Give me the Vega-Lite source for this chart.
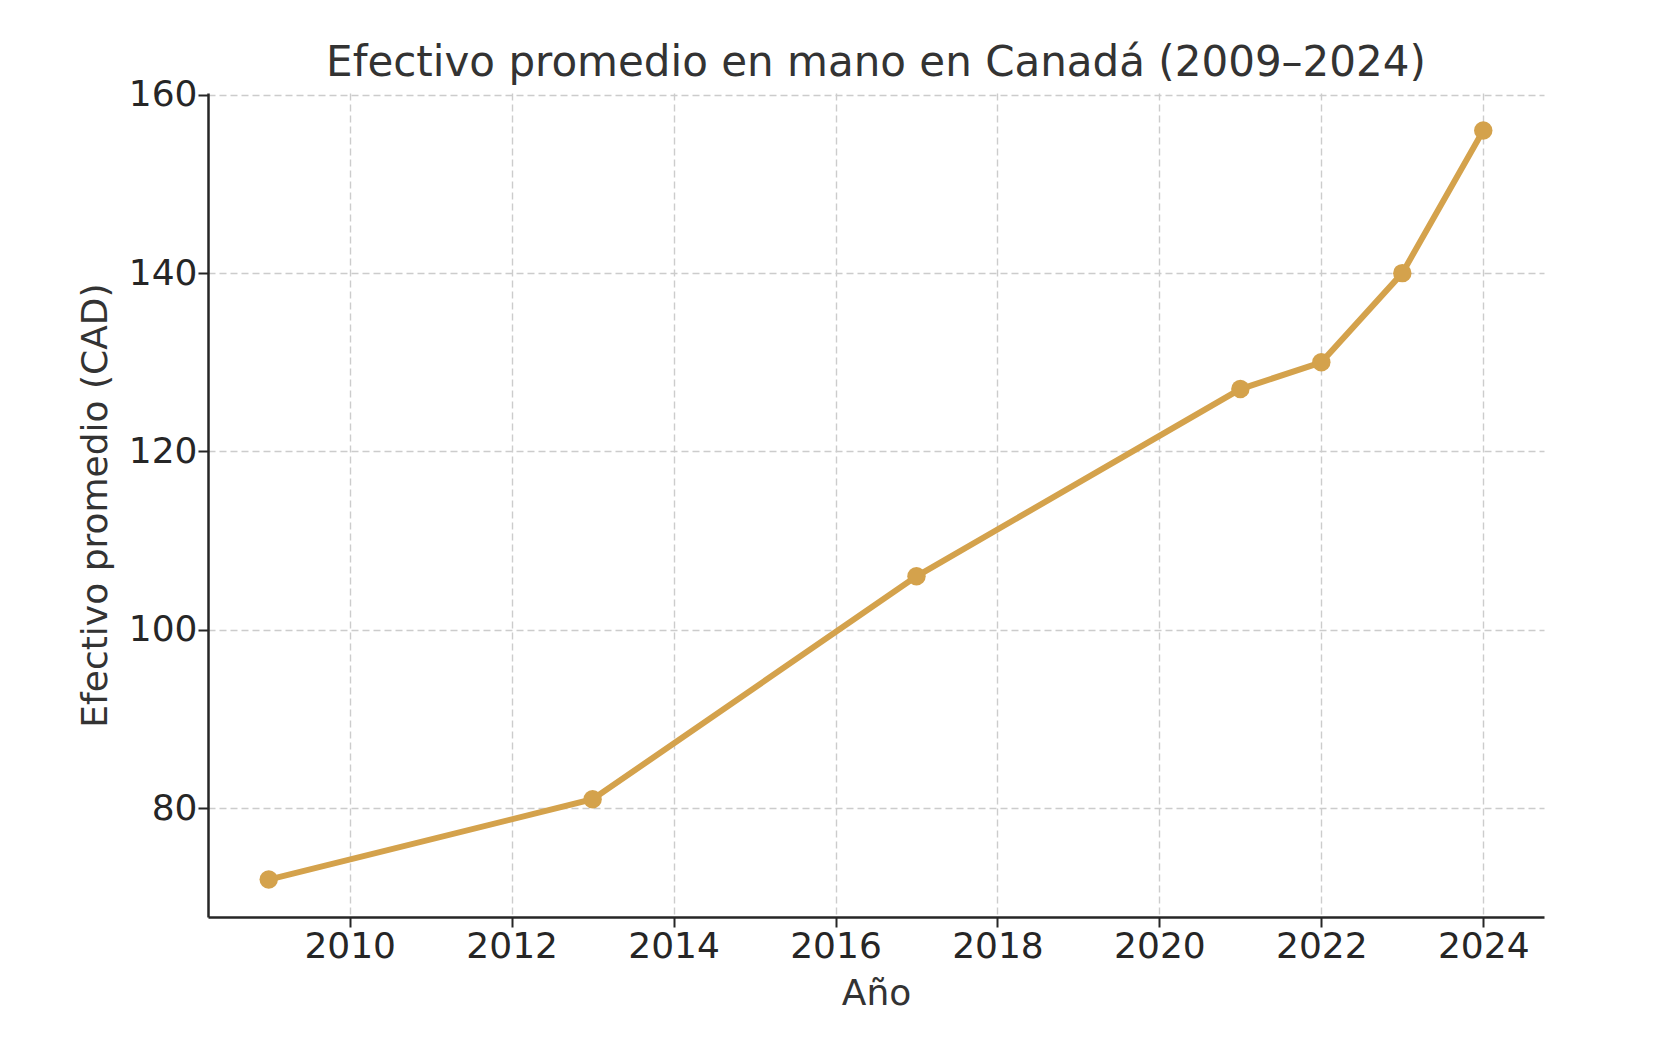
{
  "$schema": "https://vega.github.io/schema/vega-lite/v6.json",
  "width": 1336,
  "height": 824,
  "autosize": {"type": "none"},
  "padding": {"left": 208, "top": 93, "right": 124, "bottom": 131},
  "background": "white",
  "title": {
    "text": "Efectivo promedio en mano en Canadá (2009–2024)",
    "font": "DejaVu Sans",
    "fontSize": 42,
    "fontWeight": "normal",
    "color": "#333333",
    "anchor": "middle",
    "offset": -8
  },
  "data": {
    "values": [
      {"year": 2009, "cash": 72},
      {"year": 2013, "cash": 81},
      {"year": 2017, "cash": 106},
      {"year": 2021, "cash": 127},
      {"year": 2022, "cash": 130},
      {"year": 2023, "cash": 140},
      {"year": 2024, "cash": 156}
    ]
  },
  "config": {
    "view": {"stroke": null},
    "axis": {
      "labelFont": "DejaVu Sans",
      "titleFont": "DejaVu Sans",
      "labelFontSize": 36,
      "titleFontSize": 36,
      "titleFontWeight": "normal",
      "labelColor": "#262626",
      "titleColor": "#333333",
      "domainColor": "#262626",
      "domainWidth": 2.5,
      "tickColor": "#262626",
      "tickWidth": 2,
      "tickSize": 10,
      "gridColor": "#cccccc",
      "gridDash": [7, 4],
      "gridWidth": 1.4
    }
  },
  "layer": [
    {
      "mark": {"type": "line", "color": "#D4A24C", "strokeWidth": 6},
      "encoding": {
        "x": {
          "field": "year",
          "type": "quantitative",
          "title": "Año",
          "scale": {"domain": [2008.25, 2024.75], "nice": false, "zero": false},
          "axis": {"values": [2010, 2012, 2014, 2016, 2018, 2020, 2022, 2024], "format": "d", "labelPadding": 2, "titlePadding": 12}
        },
        "y": {
          "field": "cash",
          "type": "quantitative",
          "title": "Efectivo promedio (CAD)",
          "scale": {"domain": [67.8, 160.2], "nice": false, "zero": false},
          "axis": {"values": [80, 100, 120, 140, 160], "labelPadding": 1, "titlePadding": 14}
        }
      }
    },
    {
      "mark": {"type": "point", "filled": true, "opacity": 1, "color": "#D4A24C", "size": 340},
      "encoding": {
        "x": {"field": "year", "type": "quantitative"},
        "y": {"field": "cash", "type": "quantitative"}
      }
    }
  ]
}
